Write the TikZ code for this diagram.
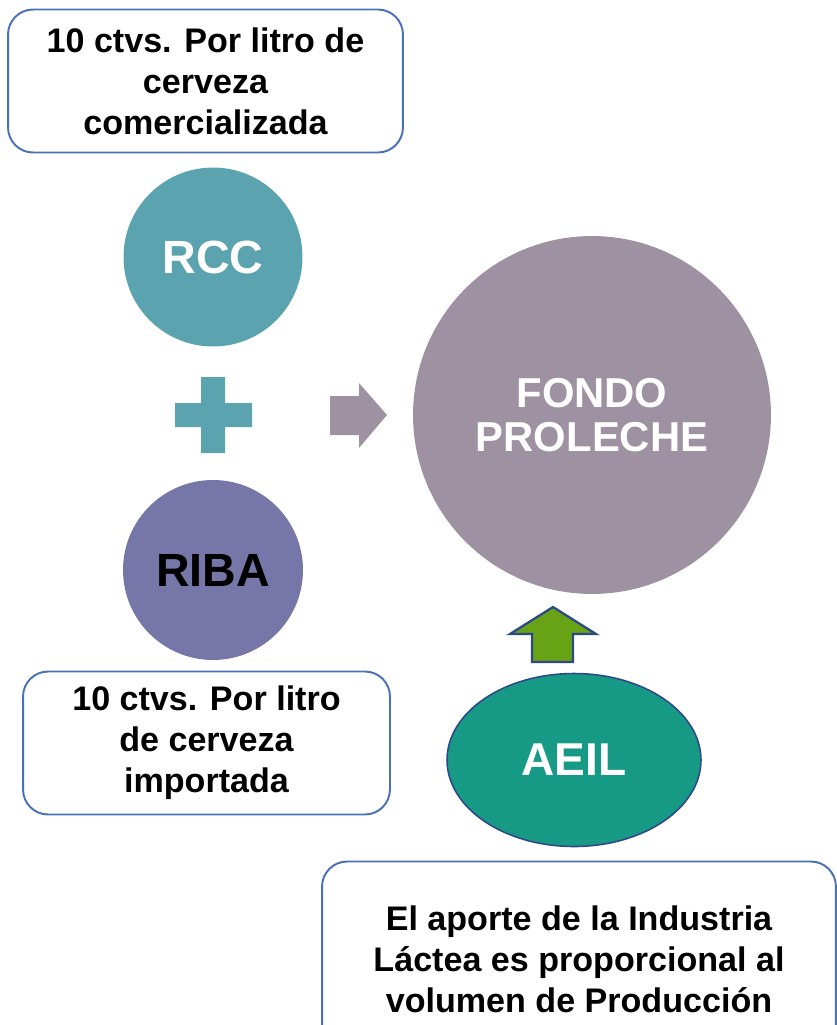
\documentclass[tikz,border=0pt]{standalone}
\usepackage{fontspec}
\setmainfont{Liberation Sans}
\usetikzlibrary{shapes.geometric}

\definecolor{boxblue}{HTML}{4A70B8}
\definecolor{rccteal}{HTML}{5BA4AF}
\definecolor{fondomauve}{HTML}{9E91A1}
\definecolor{ribaviolet}{HTML}{7677A8}
\definecolor{aeilgreen}{HTML}{169985}
\definecolor{arrowgreen}{HTML}{68A316}
\definecolor{darkrim}{HTML}{2E4A86}

\tikzset{
  notebox/.style={draw=boxblue, line width=1.1pt, rounded corners=0.5cm, fill=white,
    align=center, font=\bfseries\fontsize{19.4}{23.4}\selectfont},
  bigdisc/.style={circle, inner sep=0pt, font=\bfseries\fontsize{26.5}{30}\selectfont},
}

\begin{document}
\begin{tikzpicture}[x=0.02cm,y=-0.02cm]
\useasboundingbox (0,0) rectangle (837,1025);

% note boxes
\node [notebox, minimum width=7.9cm, minimum height=2.86cm] at (205.5,81) (noteRCC) {10 ctvs. Por litro de\\cerveza\\comercializada};
\node [notebox, minimum width=7.34cm, minimum height=2.86cm] at (206.5,743) (noteRIBA) {10 ctvs. Por litro\\de cerveza\\importada};
\node [notebox, minimum width=10.28cm, minimum height=3.9cm] at (579,959) (noteAEIL) {El aporte de la Industria\\Láctea es proporcional al\\volumen de Producción};

% discs
\node [bigdisc, fill=rccteal, text=white, minimum size=3.58cm] at (213,257) (rcc) {RCC};
\node [bigdisc, fill=ribaviolet, text=black, minimum size=3.6cm] at (213,570) (riba) {RIBA};
\node [bigdisc, fill=fondomauve, text=white, minimum size=7.16cm, align=center,
  font=\bfseries\fontsize{23.8}{25}\selectfont] at (592,415) (fondo) {FONDO\\PROLECHE};
\node [ellipse, draw=darkrim, line width=0.9pt, fill=aeilgreen, text=white, inner sep=0pt,
  minimum width=5.08cm, minimum height=3.46cm, font=\bfseries\fontsize{26.2}{30}\selectfont] at (574,760) (aeil) {AEIL};

% plus sign
\fill [rccteal] (175,403) -- (201,403) -- (201,377) -- (225,377) -- (225,403) -- (252,403)
  -- (252,427) -- (225,427) -- (225,453) -- (201,453) -- (201,427) -- (175,427) -- cycle;

% block arrow to the fund
\fill [fondomauve] (330,396) -- (359,396) -- (359,383) -- (387,415) -- (359,448) -- (359,435) -- (330,435) -- cycle;

% block arrow up from AEIL
\draw [darkrim, line width=1.3pt, fill=arrowgreen] (553,607) -- (596,634) -- (573,634) -- (573,662)
  -- (532,662) -- (532,634) -- (510,634) -- cycle;
\end{tikzpicture}
\end{document}
